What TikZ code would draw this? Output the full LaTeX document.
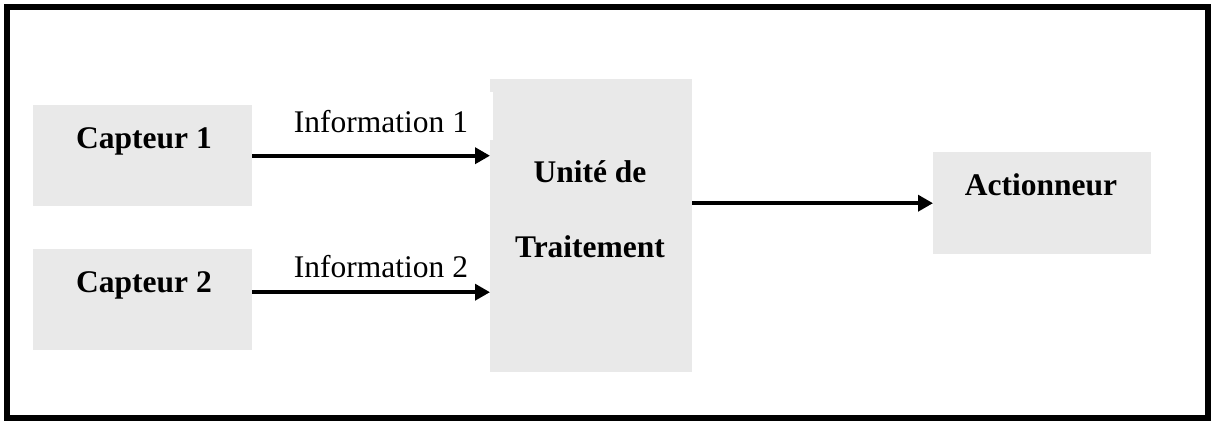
\documentclass[tikz,border=0pt]{standalone}
\usepackage{fontspec}
\setmainfont{Liberation Serif}
\usetikzlibrary{arrows.meta}
\definecolor{boxgray}{HTML}{E9E9E9}
\tikzset{
  blockbox/.style={fill=boxgray, draw=none, inner sep=0pt, anchor=north west},
  boldtxt/.style={font=\fontsize{31.5}{38}\selectfont\bfseries, inner sep=0pt, anchor=base},
  plaintxt/.style={font=\fontsize{31.5}{38}\selectfont, inner sep=0pt, anchor=base},
  arr/.style={line width=3.6pt, -{Triangle[length=15pt,width=16pt]}},
}
\begin{document}
\begin{tikzpicture}[x=1pt, y=-1pt]
\useasboundingbox (0,0) rectangle (1213,423);
\draw[line width=6pt] (7,7) rectangle (1208,418);
% boxes
\node[blockbox, minimum width=219pt, minimum height=101pt] (c1) at (33,105) {};
\node[blockbox, minimum width=219pt, minimum height=101pt] (c2) at (33,249) {};
\node[blockbox, minimum width=202pt, minimum height=293pt] (unit) at (490,79) {};
\node[blockbox, minimum width=218pt, minimum height=102pt] (act) at (933,152) {};
% white label background
\node[fill=white, draw=none, inner sep=0pt, anchor=north west, minimum width=213pt, minimum height=48pt] (infobg) at (280,92) {};
% texts
\node[boldtxt] (t1) at (144,148) {Capteur 1};
\node[boldtxt] (t2) at (144,292) {Capteur 2};
\node[boldtxt] (tu1) at (590,182) {Unité de};
\node[boldtxt] (tu2) at (590,257) {Traitement};
\node[boldtxt] (ta) at (1041,195) {Actionneur};
\node[plaintxt] (i1) at (381,132) {Information 1};
\node[plaintxt] (i2) at (381,277) {Information 2};
% arrows
\draw[arr] (c1.east) -- (c1.east -| unit.west);
\draw[arr] ([yshift=7.5pt]c2.east) -- ([yshift=7.5pt]c2.east -| unit.west);
\draw[arr] (unit.east |- act.west) -- (act.west);
\end{tikzpicture}
\end{document}
